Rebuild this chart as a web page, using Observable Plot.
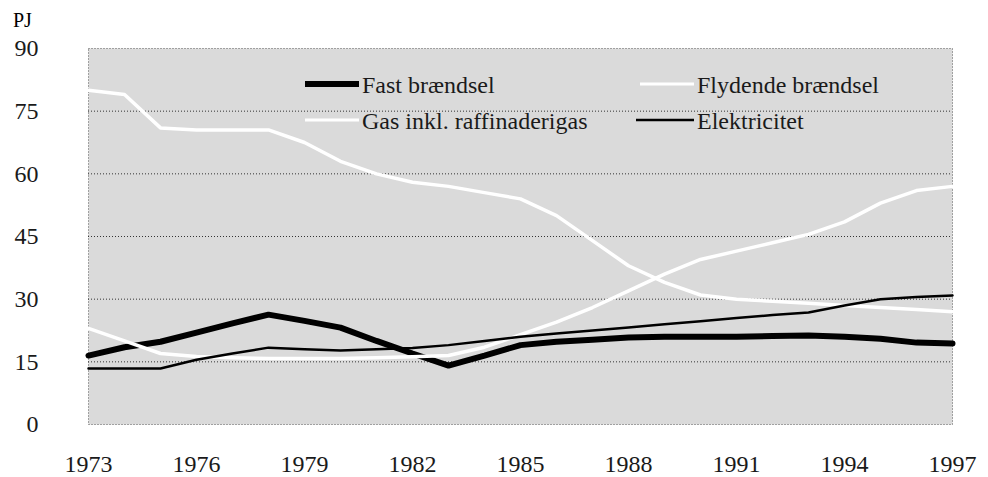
<!DOCTYPE html>
<html><head><meta charset="utf-8">
<script src="https://cdn.jsdelivr.net/npm/d3@7"></script>
<script src="https://cdn.jsdelivr.net/npm/@observablehq/plot@0.6"></script>
</head><body style="margin:0;background:#fff">
<div id="wrap" style="position:relative;width:988px;height:477px;font-family:'Liberation Serif'"><div id="unit" style="position:absolute;left:13px;top:9px;font-size:20px;line-height:22px;font-family:'Liberation Serif';z-index:2">PJ</div></div>
<script>
const years = [1973,1974,1975,1976,1977,1978,1979,1980,1981,1982,1983,1984,1985,1986,1987,1988,1989,1990,1991,1992,1993,1994,1995,1996,1997];
const fast = [16.5,18.5,19.8,22,24.2,26.3,24.8,23.2,20,17,14.1,16.5,19,19.8,20.3,20.8,21,21,21,21.2,21.3,21,20.5,19.6,19.4];
const flydende = [80,79,71,70.5,70.5,70.5,67.5,63,60,58,57,55.5,54,50,44,38,34,31,30,29.5,29,28.5,28,27.5,27];
const gas = [23,20,17,16.3,16,15.8,15.8,15.8,16,16.2,16.5,18.5,21.5,24.5,28,32,36,39.5,41.5,43.5,45.5,48.5,53,56,57];
const elek = [13.4,13.4,13.4,15.5,17,18.4,18,17.7,18,18.3,19,20,21,21.8,22.5,23.2,24,24.7,25.5,26.2,26.8,28.5,30,30.5,30.9];
const seriesNames = ["Fast brændsel","Flydende brændsel","Gas inkl. raffinaderigas","Elektricitet"];
const xTicks = [1973,1976,1979,1982,1985,1988,1991,1994,1997];
const yTicks = [0,15,30,45,60,75,90];
const gridVals = [15,30,45,60,75];
const unitLabel = "PJ";

const FONT = "Liberation Serif";
document.getElementById("unit").textContent = unitLabel;
const valuesBySeries = [fast, flydende, gas, elek];
const rows = [];
seriesNames.forEach((s, i) => years.forEach((y, j) => rows.push({series: s, year: y, value: valuesBySeries[i][j]})));
const of = s => rows.filter(r => r.series === s);

const chart = Plot.plot({
  width: 988, height: 477,
  marginLeft: 88, marginRight: 36, marginTop: 48, marginBottom: 53,
  style: {fontFamily: FONT, fontSize: "24px", color: "#1a1a1a", background: "#fff"},
  x: {domain: [1973, 1997]},
  y: {domain: [0, 90]},
  marks: [
    Plot.frame({fill: "#dadada", stroke: "#555", strokeDasharray: "1,2", strokeWidth: 1}),
    Plot.ruleY(gridVals, {stroke: "#333", strokeDasharray: "1,2", strokeWidth: 1}),
    Plot.line(of(seriesNames[0]), {x: "year", y: "value", stroke: "#000", strokeWidth: 6, strokeLinejoin: "miter"}),
    Plot.line(of(seriesNames[1]), {x: "year", y: "value", stroke: "#fff", strokeWidth: 3.5}),
    Plot.line(of(seriesNames[2]), {x: "year", y: "value", stroke: "#fff", strokeWidth: 3.5}),
    Plot.line(of(seriesNames[3]), {x: "year", y: "value", stroke: "#000", strokeWidth: 2.5}),
    Plot.axisX(xTicks, {tickSize: 0, tickPadding: 30, tickFormat: d => String(d), label: null, fontSize: 24}),
    Plot.axisY(yTicks, {tickSize: 0, tickPadding: 50, label: null, fontSize: 24})
  ]
});
const wrap = document.getElementById("wrap");
wrap.appendChild(chart);

// overlay: legend
const ns = "http://www.w3.org/2000/svg";
const ov = document.createElementNS(ns, "svg");
ov.setAttribute("width", 988); ov.setAttribute("height", 477);
ov.setAttribute("style", "position:absolute;left:0;top:0;font-family:'Liberation Serif';font-size:24px");
wrap.appendChild(ov);
function add(tag, attrs, text) {
  const el = document.createElementNS(ns, tag);
  for (const k in attrs) el.setAttribute(k, attrs[k]);
  if (text != null) el.textContent = text;
  ov.appendChild(el); return el;
}
const legend = [
  {name: seriesNames[0], lx: 305, tx: 362, ly: 84, ty: 93, stroke: "#000", w: 6},
  {name: seriesNames[1], lx: 640, tx: 697, ly: 84, ty: 93, stroke: "#fff", w: 3},
  {name: seriesNames[2], lx: 305, tx: 362, ly: 120, ty: 129, stroke: "#fff", w: 3},
  {name: seriesNames[3], lx: 636, tx: 697, ly: 120, ty: 129, stroke: "#000", w: 2.5}
];
legend.forEach(d => {
  add("line", {x1: d.lx, x2: d.tx - 3, y1: d.ly, y2: d.ly, stroke: d.stroke, "stroke-width": d.w});
  add("text", {x: d.tx, y: d.ty, fill: "#1a1a1a", style: "font-family:'Liberation Serif';font-size:24px"}, d.name);
});
</script>
</body></html>
